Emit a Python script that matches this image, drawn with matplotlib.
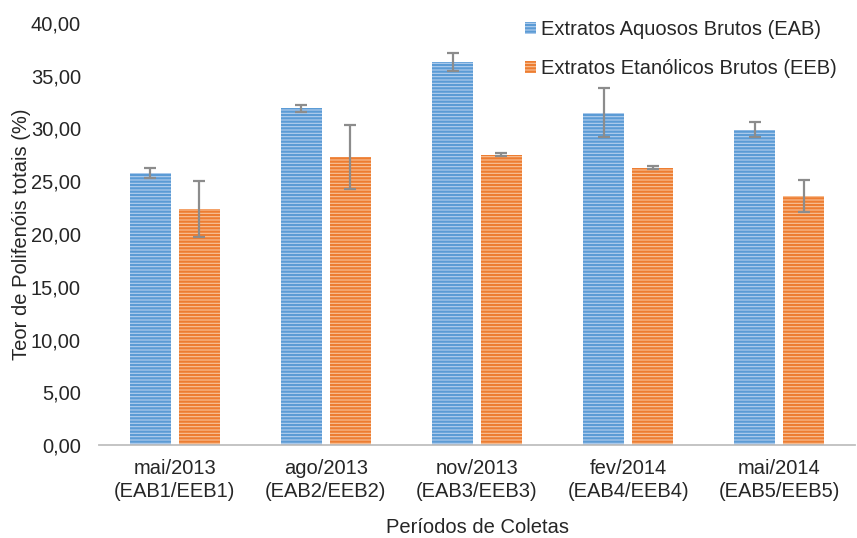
import numpy as np
import matplotlib.pyplot as plt

plt.rcParams['font.family'] = ['Liberation Sans', 'DejaVu Sans']
plt.rcParams['hatch.linewidth'] = 1.6

categorias = ['mai/2013\n(EAB1/EEB1)', 'ago/2013\n(EAB2/EEB2)', 'nov/2013\n(EAB3/EEB3)',
              'fev/2014\n(EAB4/EEB4)', 'mai/2014\n(EAB5/EEB5)']
eab = [25.8, 31.9, 36.3, 31.5, 29.9]
eab_err = [0.5, 0.3, 0.85, 2.35, 0.7]
eeb = [22.4, 27.3, 27.5, 26.3, 23.6]
eeb_err = [2.65, 3.0, 0.15, 0.15, 1.5]

x = np.arange(len(categorias))
w = 0.27
fs = 14.5

fig = plt.figure(figsize=(8.57, 5.38), dpi=100)
ax = fig.add_axes([99/857, 1 - 445/538, 756/857, 422/538])

err_kw = dict(ecolor='#8c8c8c', elinewidth=1.6, capsize=4, capthick=1.6)
ax.bar(x - 0.162, eab, w, yerr=eab_err, color='#b4cfee', edgecolor='#5b9bd5',
       hatch='-----', linewidth=0, error_kw=err_kw, label='Extratos Aquosos Brutos (EAB)')
ax.bar(x + 0.162, eeb, w, yerr=eeb_err, color='#f9c39a', edgecolor='#ed7d31',
       hatch='-----', linewidth=0, error_kw=err_kw, label='Extratos Etanólicos Brutos (EEB)')

ax.set_xlim(-0.5, len(categorias) - 0.5)
ax.set_ylim(0, 40)
ax.set_yticks(np.arange(0, 41, 5))
ax.set_yticklabels([f'{v:.2f}'.replace('.', ',') for v in np.arange(0, 41, 5)])
ax.set_xticks(x)
ax.set_xticklabels(categorias, linespacing=1.25)
ax.tick_params(axis='y', length=0, labelsize=fs, colors='#262626', pad=13)
ax.tick_params(axis='x', length=0, labelsize=fs, colors='#262626', pad=10)

for s in ['top', 'right', 'left']:
    ax.spines[s].set_visible(False)
ax.spines['bottom'].set_color('#bfbfbf')
ax.spines['bottom'].set_linewidth(1.3)

ax.set_ylabel('Teor de Polifenóis totais (%)', fontsize=fs, color='#262626')
ax.yaxis.set_label_coords(-0.09, 0.5)
ax.set_xlabel('Períodos de Coletas', fontsize=fs, color='#262626')
ax.xaxis.set_label_coords(0.5, -0.172)

ax.legend(loc='upper right', bbox_to_anchor=(1.0, 1.05), frameon=False, fontsize=fs,
          handlelength=0.55, handleheight=0.55, handletextpad=0.25, labelspacing=1.0,
          labelcolor='#262626')

fig.savefig('out.png', dpi=100)
